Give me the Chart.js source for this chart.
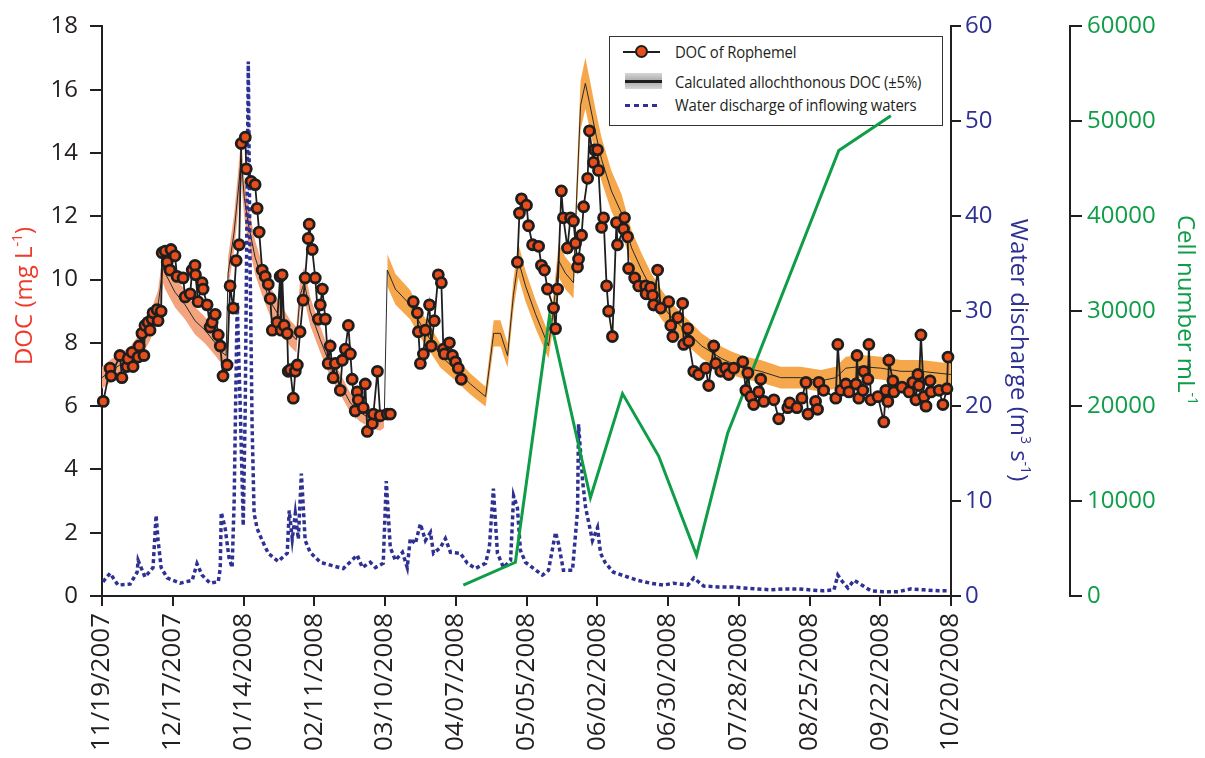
<!DOCTYPE html>
<html>
<head>
<meta charset="utf-8">
<script src="https://cdn.jsdelivr.net/npm/chart.js@4.4.1/dist/chart.umd.min.js"></script>
<style>
html,body{margin:0;padding:0;background:#fff;}
#wrap{position:relative;width:1205px;height:758px;}
canvas{display:block;position:relative;z-index:1;}
#legend{position:absolute;z-index:0;left:609px;top:36px;width:334px;height:90px;border:1.5px solid #333;background:#fff;box-sizing:border-box;font-family:'Open Sans',sans-serif;color:#231f20;}
#legend .txt{position:absolute;left:65px;font-size:16px;line-height:20px;white-space:nowrap;transform-origin:left center;transform:scaleX(0.93);letter-spacing:-0.2px;}
#legend .sym{position:absolute;}
</style>
</head>
<body>
<div id="wrap">
<div id="legend">
  <div class="sym" style="left:13px;top:14px;width:37px;height:2px;background:#1e1e1e;"></div>
  <div class="sym" style="left:25px;top:8px;width:9px;height:9px;border-radius:50%;background:#e84e1b;border:2.5px solid #1e1e1e;"></div>
  <div class="txt" style="top:5px;">DOC of Rophemel</div>
  <div class="sym" style="left:15px;top:36px;width:37px;height:16px;background:linear-gradient(#d6d6d6,#a9a9a9 50%,#d6d6d6);"></div>
  <div class="sym" style="left:15px;top:43px;width:37px;height:3px;background:#1e1e1e;"></div>
  <div class="txt" style="top:35px;">Calculated allochthonous DOC (±5%)</div>
  <div class="sym" style="left:15px;top:67px;width:34px;height:3px;background:repeating-linear-gradient(90deg,#2e3192 0 5px,transparent 5px 9px);"></div>
  <div class="txt" style="top:58px;">Water discharge of inflowing waters</div>
</div>
<canvas id="c" width="1205" height="758"></canvas>
</div>
<script>
// X axis: days since 11/19/2007
const xTickLabels = ['11/19/2007','12/17/2007','01/14/2008','02/11/2008','03/10/2008','04/07/2008','05/05/2008','06/02/2008','06/30/2008','07/28/2008','08/25/2008','09/22/2008','10/20/2008'];

// DOC of Rophemel (mg/L); null = sampling gap
const docDays = [0.5,3.2,3.6,7.1,7.9,9.9,10.3,11.9,12.3,14.3,14.7,15.8,16.6,17.0,18.2,19.0,19.8,20.2,21.8,22.2,23.4,23.8,25.0,25.8,26.9,27.3,28.9,29.7,32.1,32.9,34.9,35.7,36.8,37.0,38.0,39.6,40.0,41.6,42.8,43.6,44.8,46.0,46.8,47.9,49.5,50.7,51.9,53.1,54.3,55.1,56.7,57.1,59.0,60.6,61.4,62.2,63.4,64.6,65.8,66.6,67.4,69.3,70.5,70.9,71.3,72.1,73.3,73.7,74.5,75.7,76.5,77.3,78.4,79.6,80.4,81.6,82.0,83.2,84.4,85.6,86.4,87.2,88.4,89.5,90.3,91.5,92.3,94.3,95.1,96.3,97.5,98.3,99.0,100.2,101.0,101.4,103.4,104.2,105.0,107.0,107.4,109.0,110.1,112.9,114.1,
  118,
  123.2,124.8,125.2,126.0,127.2,128.0,129.6,130.3,131.5,133.1,134.3,135.1,135.5,137.5,138.7,139.9,141.0,142.2,
  150,
  164.4,165.2,166.0,168.0,168.8,170.4,172.8,173.9,175.1,176.3,178.7,179.5,180.3,181.8,182.6,184.2,185.4,186.6,187.4,188.2,188.6,189.8,190.6,192.2,192.9,194.5,194.9,196.1,196.5,197.7,198.5,199.7,200.5,202.0,203.6,204.0,206.4,206.8,208.0,208.4,210.8,212.4,215.1,215.3,217.1,217.9,218.3,219.9,221.1,224.3,225.1,225.9,227.9,229.8,230.2,231.8,232.2,234.2,236.1,238.9,240.1,242.1,242.9,244.9,246.8,248.0,250.0,253.6,254.8,255.6,256.8,257.9,259.9,260.7,261.9,265.9,267.8,271.4,272.2,275.0,277.0,278.6,279.4,282.4,283.2,283.7,285.6,290.4,291.2,292.4,294.4,295.6,298.4,298.8,299.5,301.1,301.5,303.1,303.5,304.3,307.1,309.4,310.2,311.0,311.4,313.0,313.4,316.6,319.4,320.9,322.1,322.9,323.3,324.1,325.3,326.1,327.7,328.1,331.3,332.8,334.4,334.8];
const docValues = [6.15,7.2,6.95,7.6,6.9,7.25,7.5,7.7,7.25,7.55,7.9,8.3,7.6,8.55,8.65,8.4,8.75,8.95,9.05,8.7,9.0,10.85,10.9,10.55,10.3,10.95,10.75,10.1,10.05,9.45,9.55,10.3,10.45,10.15,9.3,9.9,9.7,9.2,8.5,8.65,8.9,8.25,7.9,6.95,7.3,9.8,9.1,10.6,11.1,14.3,14.5,13.5,13.1,13.0,12.25,11.5,10.3,10.1,9.85,9.4,8.4,8.65,10.1,8.4,10.15,8.55,8.3,7.1,7.15,6.25,7.1,7.3,8.35,9.35,10.05,11.3,11.75,10.95,10.05,8.75,9.2,9.7,8.75,7.35,7.9,6.9,7.35,6.5,7.45,7.8,8.55,7.65,6.85,5.85,6.45,6.2,5.95,6.7,5.2,5.45,5.75,7.1,5.7,5.75,5.75,
  null,
  9.3,8.95,8.35,7.35,7.65,8.4,9.2,7.9,8.7,10.15,9.9,7.8,7.65,8.0,7.6,7.4,7.2,6.85,
  null,
  10.55,12.1,12.55,12.35,11.7,11.1,11.05,10.45,10.3,9.7,9.1,8.45,9.7,12.8,11.95,11.0,11.95,11.85,11.15,10.4,10.65,11.4,12.3,13.2,14.7,13.7,14.1,14.1,13.45,11.65,11.95,9.8,9.0,8.2,11.8,11.1,11.6,11.95,11.35,10.35,10.05,9.8,9.8,9.55,9.75,9.5,9.2,10.3,9.1,9.3,8.55,8.2,8.8,9.25,7.95,8.45,8.05,7.1,7.0,7.2,6.65,7.9,7.35,7.1,7.2,7.0,7.2,7.4,6.5,7.05,6.3,6.05,6.45,6.85,6.15,6.2,5.6,5.95,6.1,5.95,6.25,6.75,5.75,6.15,5.9,6.75,6.5,6.25,7.95,6.5,6.7,6.45,6.7,7.6,6.25,6.5,7.1,6.85,7.95,6.2,6.3,5.5,6.5,6.15,7.45,6.8,6.45,6.6,6.45,6.75,6.2,7.0,6.65,8.25,6.3,6.0,6.8,6.45,6.5,6.05,6.55,7.55];

// Calculated allochthonous DOC (mg/L)
const calcDays = [0,3.2,7.1,11.1,15.1,19.0,22.2,24.2,25.0,28.9,32.9,36.8,40.8,44.8,47.5,49.1,49.9,52.3,53.9,55.1,56.3,57.8,60.6,63.4,66.6,70.5,74.5,76.9,78.4,80.0,82.4,86.4,90.3,94.3,98.3,102.2,106.2,110.1,111.7,112.9,116.1,122.0,126.0,130.0,133.9,140.7,145.8,151.8,155.0,157.7,160.5,162.8,164.8,167.6,171.6,176.7,178.3,180.7,183.4,186.6,187.8,189.4,191.3,192.9,195.7,197.7,201.6,205.6,209.6,213.6,217.5,221.5,225.5,229.4,233.4,237.4,241.3,245.3,249.3,254.8,260.7,268.6,276.5,284.5,290.4,294.4,300.3,308.2,316.2,324.1,336.0];
const calcValues = [6.9,7.1,7.3,7.5,7.9,8.5,9.2,10.4,10.2,9.6,9.2,8.7,8.4,8.0,7.7,7.6,10.2,11.5,12.8,13.8,12.6,11.8,10.7,10.0,9.3,8.8,8.3,8.1,9.5,9.9,9.0,8.1,7.3,6.7,6.1,5.8,5.6,5.5,5.6,10.3,9.7,9.2,8.6,8.1,7.6,7.1,6.7,6.3,8.3,8.3,7.6,9.5,10.6,9.8,8.9,7.9,8.8,10.6,10.2,9.9,12.5,15.5,16.2,15.6,14.5,13.8,12.8,12.1,11.0,10.3,9.7,9.2,8.8,8.5,8.2,7.9,7.7,7.5,7.35,7.2,7.1,6.9,6.9,6.8,6.9,7.2,7.25,7.2,7.1,7.1,7.0];
const bandFraction = 0.05; // ±5 %
const bandSplitDay = 112.5;

// Water discharge of inflowing waters (m3/s)
const dischargeDays = [0.4,3.2,6.3,11.1,13.9,14.3,17.0,20.2,21.4,22.2,23.4,25.8,30.9,35.7,37.6,39.6,42.8,46.0,46.8,47.2,48.7,50.3,51.5,52.3,53.5,54.7,55.9,56.7,57.9,58.6,59.4,60.2,61.4,63.4,65.8,69.7,73.3,74.1,75.3,76.5,77.7,78.9,79.6,80.4,82.4,86.4,91.1,95.5,101.0,103.0,106.2,108.2,111.3,112.5,114.1,116.1,118.9,120.8,122.0,124.0,126.0,128.0,130.0,131.2,133.9,135.9,137.9,141.8,144.6,147.8,151.8,153.3,154.9,156.5,158.9,161.7,162.9,164.4,165.6,167.6,170.8,174.3,176.7,179.5,180.7,182.6,186.2,188.2,188.6,190.2,191.4,194.1,196.1,197.3,199.3,202.4,208.0,211.9,217.1,222.3,226.2,231.8,234.2,238.1,243.7,249.6,254.0,259.5,264.7,269.9,275.4,279.7,285.3,289.7,291.2,293.2,295.2,297.6,299.5,304.3,309.4,315.0,320.2,325.3,330.9,335.2];
const dischargeValues = [1.5,2.4,1.15,1.25,2.5,3.75,2.0,3.0,8.5,5.85,3.0,1.9,1.35,1.65,3.4,2.2,1.35,1.5,2.9,8.8,7.2,4.0,3.0,10.0,31.0,20.0,7.4,20.0,56.3,35.0,18.0,8.7,7.1,5.85,4.5,3.65,4.5,9.0,6.0,8.7,6.0,12.9,9.7,5.85,4.6,3.55,3.2,2.9,4.3,3.0,3.55,3.0,3.45,12.1,5.1,3.75,4.6,3.0,6.05,5.5,7.6,5.85,6.7,4.5,5.1,6.05,4.6,4.5,3.45,2.9,3.45,5.1,11.3,4.5,3.0,3.75,10.55,9.3,4.8,3.55,2.9,2.2,2.7,6.7,5.5,2.7,2.7,9.0,18.1,12.1,9.3,5.85,7.2,4.5,3.45,2.5,2.0,1.65,1.35,1.15,1.35,1.15,1.9,1.05,0.95,0.95,0.85,0.75,0.65,0.75,0.75,0.65,0.55,0.65,2.2,1.45,0.85,1.65,1.35,0.55,0.45,0.45,0.75,0.65,0.55,0.55];

// Cell number (cells/mL)
const cellDays = [143.0,163.6,177.1,193.3,206.0,220.3,235.3,247.6,291.6,312.2];
const cellValues = [1150,3550,29500,10350,21320,14740,4290,17140,46930,50590];

const zip = (xs, ys) => xs.map((x, i) => ({x, y: ys[i]}));
const docPts = zip(docDays, docValues);
const calcPts = zip(calcDays, calcValues);
const bandA = calcPts.filter(p => p.x < bandSplitDay);
const bandB = calcPts.filter(p => p.x >= bandSplitDay);
const up = arr => arr.map(p => ({x: p.x, y: p.y * (1 + bandFraction)}));
const lo = arr => arr.map(p => ({x: p.x, y: p.y * (1 - bandFraction)}));

const FONT = 'Open Sans';
const INK = '#231f20';
const BLUE = '#2e3192';
const GREEN = '#0f9d48';
const RED = '#ef3b2c';

function drawRich(ctx, parts, cx, cy, rot, size, color) {
  ctx.save();
  ctx.translate(cx, cy);
  ctx.rotate(rot);
  ctx.fillStyle = color;
  ctx.textBaseline = 'alphabetic';
  ctx.textAlign = 'left';
  const fMain = size + 'px "' + FONT + '"';
  const fSup = Math.round(size * 0.6) + 'px "' + FONT + '"';
  let total = 0;
  parts.forEach(p => { ctx.font = p[1] ? fSup : fMain; total += ctx.measureText(p[0]).width; });
  let x = -total / 2;
  const base = size * 0.36;
  parts.forEach(p => {
    ctx.font = p[1] ? fSup : fMain;
    ctx.fillText(p[0], x, p[1] ? base - size * 0.4 : base);
    x += ctx.measureText(p[0]).width;
  });
  ctx.restore();
}

const axisTitles = {
  id: 'axisTitles',
  afterDraw(chart) {
    const ctx = chart.ctx;
    const s = chart.scales;
    drawRich(ctx, [['DOC (mg L', 0], ['-1', 1], [')', 0]], s.y.left + 23, 296, -Math.PI / 2, 24, RED);
    drawRich(ctx, [['Water discharge (m', 0], ['3', 1], [' s', 0], ['-1', 1], [')', 0]], s.y1.left + 69, 350, Math.PI / 2, 24, BLUE);
    drawRich(ctx, [['Cell number mL', 0], ['-1', 1]], s.y2.left + 117, 310, Math.PI / 2, 24, GREEN);
  }
};

const tickFont = {family: FONT, size: 24};
const gridCommon = {drawOnChartArea: false, drawTicks: true, color: INK, lineWidth: 2};
const borderCommon = {display: true, color: INK, width: 2};

new Chart(document.getElementById('c'), {
  type: 'line',
  data: {
    datasets: [
      {label: 'DOC of Rophemel', data: docPts, yAxisID: 'y', borderColor: '#1e1e1e', borderWidth: 1.8,
       pointRadius: 5, pointBorderWidth: 2.8, pointBackgroundColor: '#e84e1b', pointBorderColor: '#1e1e1e',
       spanGaps: false, tension: 0, clip: 10},
      {label: 'Cell number', data: zip(cellDays, cellValues), yAxisID: 'y2', borderColor: GREEN, borderWidth: 3,
       pointRadius: 0, tension: 0},
      {label: 'Water discharge of inflowing waters', data: zip(dischargeDays, dischargeValues), yAxisID: 'y1',
       borderColor: BLUE, borderWidth: 3.5, borderDash: [4, 3], borderCapStyle: 'butt', pointRadius: 0, tension: 0},
      {label: 'Calculated allochthonous DOC', data: calcPts, yAxisID: 'y', borderColor: '#2a2a2a', borderWidth: 1,
       pointRadius: 0, tension: 0},
      {label: 'bandA upper', data: up(bandA), yAxisID: 'y', borderWidth: 0, pointRadius: 0, fill: '+1',
       backgroundColor: '#f3a47e', borderColor: 'rgba(0,0,0,0)', tension: 0},
      {label: 'bandA lower', data: lo(bandA), yAxisID: 'y', borderWidth: 0, pointRadius: 0, fill: false,
       borderColor: 'rgba(0,0,0,0)', tension: 0},
      {label: 'bandB upper', data: up(bandB), yAxisID: 'y', borderWidth: 0, pointRadius: 0, fill: '+1',
       backgroundColor: '#f6a74c', borderColor: 'rgba(0,0,0,0)', tension: 0},
      {label: 'bandB lower', data: lo(bandB), yAxisID: 'y', borderWidth: 0, pointRadius: 0, fill: false,
       borderColor: 'rgba(0,0,0,0)', tension: 0}
    ]
  },
  options: {
    responsive: false,
    animation: false,
    events: [],
    layout: {padding: {top: 22, left: 0, right: 0, bottom: 0}},
    plugins: {legend: {display: false}, tooltip: {enabled: false}},
    scales: {
      x: {
        type: 'linear', position: 'bottom', min: 0, max: 336,
        ticks: {stepSize: 28, autoSkip: false, minRotation: 90, maxRotation: 90, padding: 7, color: INK,
                font: {family: FONT, size: 26},
                callback: v => xTickLabels[Math.round(v / 28)]},
        grid: Object.assign({tickLength: 10}, gridCommon),
        border: borderCommon,
        afterFit: s => { s.height = 162; }
      },
      y: {
        position: 'left', min: 0, max: 18,
        ticks: {stepSize: 2, padding: 12, color: INK, font: tickFont},
        grid: Object.assign({tickLength: 12}, gridCommon),
        border: borderCommon,
        afterFit: s => { s.width = 102; }
      },
      y1: {
        position: 'right', min: 0, max: 60, weight: 0,
        ticks: {stepSize: 10, padding: 4, color: BLUE, font: tickFont},
        grid: Object.assign({tickLength: 10}, gridCommon),
        border: borderCommon,
        afterFit: s => { s.width = 119; }
      },
      y2: {
        position: 'right', min: 0, max: 60000, weight: 1,
        ticks: {stepSize: 10000, padding: 5, color: GREEN, font: tickFont, callback: v => String(v)},
        grid: Object.assign({tickLength: 12}, gridCommon),
        border: borderCommon,
        afterFit: s => { s.width = 135; }
      }
    }
  },
  plugins: [axisTitles]
});
</script>
</body>
</html>
